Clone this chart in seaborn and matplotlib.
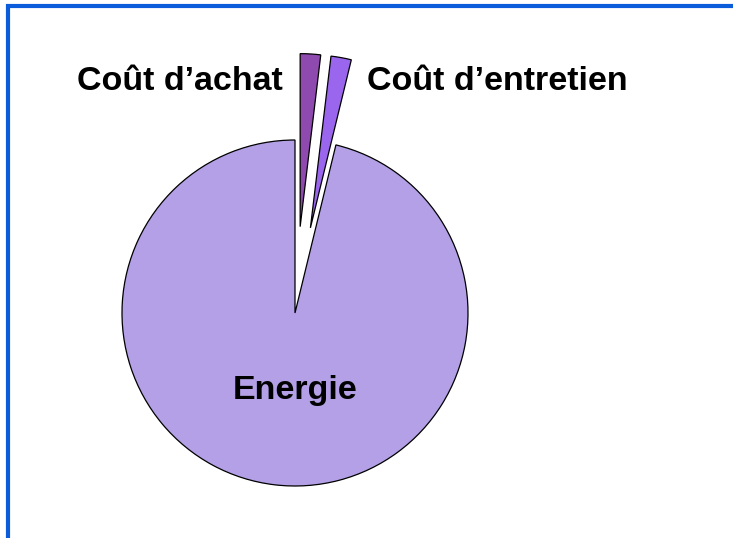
import numpy as np
import matplotlib
matplotlib.use('Agg')
import matplotlib.pyplot as plt
import seaborn as sns

# data
labels = ['Coût d\u2019achat', 'Coût d\u2019entretien', 'Energie']
values = [1.9, 1.9, 96.2]
colors = ['#8E4AAF', '#9B66EE', '#B3A0E6']
explode = [0.5, 0.5, 0.0]  # fraction of radius

sns.set_theme(style='white')
plt.rcParams['font.family'] = ['Liberation Sans', 'DejaVu Sans']

W, H = 733, 538
fig = plt.figure(figsize=(W / 100, H / 100), dpi=100)
ax = fig.add_axes([0, 0, 1, 1])

# pie in pixel-like data units (mpl explode is in data units, so scale by r)
cx, cy, r = 295, H - 313, 173
wedges, _ = ax.pie(values, colors=colors, explode=[e * r for e in explode], startangle=90,
                   counterclock=False, center=(cx, cy), radius=r,
                   wedgeprops=dict(edgecolor='black', linewidth=0.9))
ax.set_xlim(0, W)
ax.set_ylim(0, H)
ax.set_aspect('auto')
ax.axis('off')

fs = 24.5
ax.text(283, H - 82, labels[0], ha='right', va='center', fontsize=fs, fontweight='bold', color='black')
ax.text(367, H - 82, labels[1], ha='left', va='center', fontsize=fs, fontweight='bold', color='black')
ax.text(cx, H - 390, labels[2], ha='center', va='center', fontsize=fs, fontweight='bold', color='black')

# blue frame (top and left edges visible)
ax.plot([8, 8, W + 5], [-5, H - 6, H - 6], color='#0A5CDB', linewidth=3, clip_on=False,
        solid_joinstyle='miter')

fig.savefig('out.png', dpi=100)
